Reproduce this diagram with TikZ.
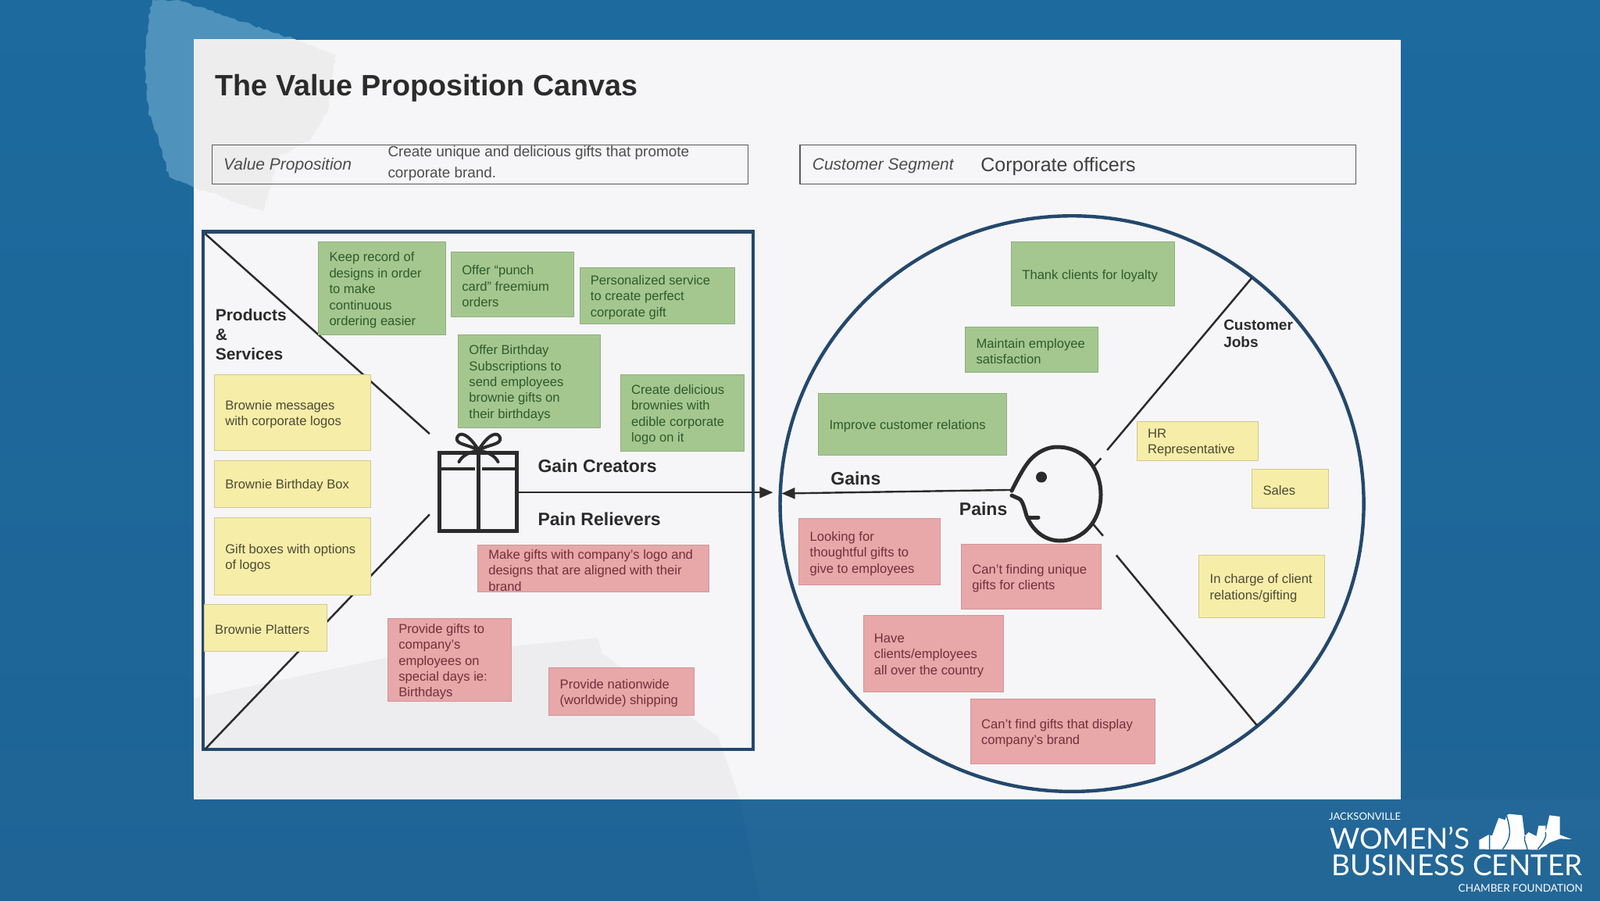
\documentclass[tikz,border=0pt]{standalone}
\usepackage{fontspec}
\setmainfont{Liberation Sans}
\newfontfamily\logofont{Lato}
\usetikzlibrary{arrows.meta,decorations.pathmorphing}
\definecolor{bgtop}{HTML}{1C6A9E}
\definecolor{bgbot}{HTML}{1F6495}
\definecolor{card}{HTML}{F6F6F8}
\definecolor{navy}{HTML}{24486C}
\definecolor{ink}{HTML}{2B2B2B}
\definecolor{gfill}{HTML}{A4C78F}
\definecolor{yfill}{HTML}{F6EDA8}
\definecolor{rfill}{HTML}{E8A7A9}
\definecolor{gtext}{HTML}{2E5A2C}
\definecolor{ytext}{HTML}{4C4A34}
\definecolor{rtext}{HTML}{70303A}
\definecolor{tapeblue}{HTML}{4F92BB}
\definecolor{tapegray}{HTML}{EDEDED}
\tikzset{
 sticky/.style={rectangle,inner sep=0pt,font=\fontsize{16.6}{20.4}\selectfont},
 greenbox/.style={sticky,fill=gfill,draw=gfill!88!black,line width=.7pt,text=gtext},
 yellowbox/.style={sticky,fill=yfill,draw=yfill!85!black,line width=.7pt,text=ytext},
 redbox/.style={sticky,fill=rfill,draw=rfill!90!black,line width=.7pt,text=rtext},
 frameline/.style={navy,line width=4.4pt},
 thinline/.style={ink,line width=2.5pt},
 headline/.style={ink,line width=5pt},
 lab/.style={font=\fontsize{20.5}{25}\bfseries\selectfont,text=ink,inner sep=0pt,align=left,anchor=west},
 arrowline/.style={ink,line width=2.4pt,-{Triangle[length=17pt,width=14pt]}},
 barbox/.style={draw=black!65,line width=1.2pt},
 logotext/.style={text=white,inner sep=0pt,anchor=base west},
 tornedge/.style={decorate,decoration={random steps,segment length=5pt,amplitude=1.6pt}},
}
% box rectangle with left-aligned text, set 2.4pt below the middle
\newcommand\bx[7]{%
 \pgfmathsetmacro\wdt{(#4-#2)*1.306122}%
 \pgfmathsetmacro\hgt{(#5-#3)*1.306122}%
 \pgfmathsetmacro\twd{\wdt-28}%
 \node[#6,minimum width=\wdt pt,minimum height=\hgt pt] (#1) at ({(#2+#4)/2},{(#3+#5)/2}) {\vbox{\kern4.8pt\hbox{\begin{minipage}{\twd pt}\raggedright #7\end{minipage}}}};}
\begin{document}
\begin{tikzpicture}[x=1.306122pt,y=-1.306122pt]
\useasboundingbox (0,0) rectangle (1568,882);
\shade[top color=bgtop,bottom color=bgbot] (0,0) rectangle (1568,882);
\fill[white,opacity=.02] (725,783) -- (1568,783) -- (1568,882) -- (745,882) -- cycle;
% torn tape under card
\begin{scope}[x=1pt/3,y=-1pt/3,shift={(170pt,0pt)}]
\fill[tapeblue,tornedge] (75,0) -- (175,0) -- (620,150) -- (780,210) -- (750,420) -- (680,540) -- (560,600) -- (500,810) -- (235,720) -- (140,680) -- (90,510) -- (60,430) -- (45,260) -- (60,60) -- cycle;
\end{scope}
% card
\fill[card] (190,39) rectangle (1373,783);
\begin{scope}
\clip (190,39) rectangle (1373,783);
\begin{scope}[x=1pt/3,y=-1pt/3,shift={(170pt,0pt)}]
\fill[tapegray,tornedge] (75,0) -- (175,0) -- (620,150) -- (780,210) -- (750,420) -- (680,540) -- (560,600) -- (500,810) -- (235,720) -- (140,680) -- (90,510) -- (60,430) -- (45,260) -- (60,60) -- cycle;
\end{scope}
\fill[black,opacity=.035] (190,684) -- (376,645) -- (586,625) -- (590,640) -- (704,722) -- (725,783) -- (190,783) -- cycle;
\end{scope}
% title
\node[font=\fontsize{37.7}{42}\bfseries\selectfont,text=ink,inner sep=0pt,anchor=base west] (title) at (211,94) {The Value Proposition Canvas};
% top bars
\draw[barbox] (208,142) rectangle (733,180);
\draw[barbox] (784,142) rectangle (1329,180);
\node[font=\fontsize{21}{25}\itshape\selectfont,text=black!70,inner sep=0pt,anchor=west] (vp) at (219,162.5) {Value Proposition};
\node[font=\fontsize{18.9}{26.5}\selectfont,text=black!70,inner sep=0pt,align=left,anchor=west] (vpt) at (380,160) {Create unique and delicious gifts that promote\\corporate brand.};
\node[font=\fontsize{21}{25}\itshape\selectfont,text=black!70,inner sep=0pt,anchor=west] (cs) at (796,162.5) {Customer Segment};
\node[font=\fontsize{25}{29}\selectfont,text=black!75,inner sep=0pt,anchor=west] (cst) at (961,163) {Corporate officers};
% frames
\draw[frameline] (199,227) rectangle (738,734);
\draw[frameline] (1050.5,493.5) ellipse [x radius=286,y radius=282];
% anchors for diagonals
\coordinate (a1) at (201,229); \coordinate (a2) at (421,425);
\coordinate (b1) at (201,734); \coordinate (b2) at (421,504);
\coordinate (c1) at (1227,272); \coordinate (c2) at (1085,441);
\coordinate (c3) at (1079,449); \coordinate (c4) at (1072,457);
\coordinate (d1) at (1094,544); \coordinate (d2) at (1232,711);
\coordinate (e1) at (1070,512); \coordinate (e2) at (1081,525);
\draw[thinline] (a1) -- (a2);
\draw[thinline] (b1) -- (b2);
\draw[thinline] (c1) -- (c2);
\draw[thinline] (c3) -- (c4);
\draw[thinline] (d1) -- (d2);
\draw[thinline] (e1) -- (e2);
% labels
\node[lab,font=\fontsize{21}{25}\bfseries\selectfont] (ps) at (211,328) {Products\\\&\\Services};
\node[lab,font=\fontsize{19}{22}\bfseries\selectfont] (cj) at (1199,327) {Customer\\Jobs};
\node[lab,font=\fontsize{23}{27}\bfseries\selectfont] (gc) at (527,456.5) {Gain Creators};
\node[lab,font=\fontsize{23}{27}\bfseries\selectfont] (pr) at (527,508.5) {Pain Relievers};
\node[lab,font=\fontsize{23}{27}\bfseries\selectfont] (gn) at (814,469) {Gains};
\node[lab,font=\fontsize{23}{27}\bfseries\selectfont] (pn) at (940,498.5) {Pains};
% green
\bx{g1}{312}{237}{437}{328}{greenbox}{Keep record of\\designs in order\\to make\\continuous\\ordering easier}
\bx{g2}{442}{247}{562}{310}{greenbox}{Offer “punch\\card” freemium\\orders}
\bx{g3}{568}{262}{720}{317}{greenbox}{Personalized service\\to create perfect\\corporate gift}
\bx{g4}{449}{328}{588}{419}{greenbox}{Offer Birthday\\Subscriptions to\\send employees\\brownie gifts on\\their birthdays}
\bx{g5}{608}{367}{729}{442}{greenbox}{Create delicious\\brownies with\\edible corporate\\logo on it}
\bx{g6}{991}{237}{1151}{300}{greenbox}{Thank clients for loyalty}
\bx{g7}{946}{320}{1076}{365}{greenbox}{Maintain employee\\satisfaction}
\bx{g8}{802}{385}{986}{446}{greenbox}{Improve customer relations}
% yellow
\bx{y1}{210}{367}{363}{441}{yellowbox}{Brownie messages\\with corporate logos}
\bx{y2}{210}{451}{363}{497}{yellowbox}{Brownie Birthday Box}
\bx{y3}{210}{507}{363}{583}{yellowbox}{Gift boxes with options\\of logos}
\bx{y4}{200}{592}{320}{638}{yellowbox}{Brownie Platters}
\bx{y5}{1114}{413}{1233}{451}{yellowbox}{HR\\Representative}
\bx{y6}{1227}{460}{1302}{498}{yellowbox}{Sales}
\bx{y7}{1175}{544}{1298}{605}{yellowbox}{\mbox{In charge of client}\\relations/gifting}
% red
\bx{r1}{468}{534}{695}{580}{redbox}{Make gifts with company’s logo and\\designs that are aligned with their\\brand}
\bx{r2}{380}{606}{501}{687}{redbox}{Provide gifts to\\company’s\\employees on\\special days ie:\\Birthdays}
\bx{r3}{538}{654}{680}{701}{redbox}{Provide nationwide\\(worldwide) shipping}
\bx{r4}{783}{508}{921}{573}{redbox}{Looking for\\thoughtful gifts to\\give to employees}
\bx{r5}{942}{533}{1079}{597}{redbox}{Can’t finding unique\\gifts for clients}
\bx{r6}{846}{603}{983}{678}{redbox}{Have\\clients/employees\\all over the country}
\bx{r7}{951}{685}{1132}{748}{redbox}{Can’t find gifts that display\\company’s brand}
% gift and head anchors
\node[inner sep=0pt,minimum width=104pt,minimum height=105pt] (gift) at (468.5,482.5) {};
\node[inner sep=0pt,minimum width=38pt,minimum height=4pt] (head) at (1005,480) {};
\coordinate (tipR) at (757.5,482.5);
\coordinate (tipL) at (766,483.5);
\draw[arrowline] (gift.east) -- (tipR);
\draw[arrowline] (head.west) -- (tipL);
% gift and head icons, logo (full-size pixels)
\begin{scope}[x=1pt,y=-1pt]
\draw[headline,miter limit=2] (562.5,579.5) rectangle (661,679.5);
\draw[headline,line width=4.4pt] (562.5,600) -- (608,600) (617,600) -- (661,600);
\draw[headline] (612.5,579) -- (612.5,679);
\draw[headline,line width=4pt,line cap=round] (612.5,576) .. controls (597,568) and (583,569) .. (585,560) .. controls (588,552) and (599,554) .. (612.5,576) .. controls (626,554) and (637,552) .. (640,560) .. controls (642,569) and (628,568) .. (612.5,576);
\draw[headline,line width=4pt,line cap=round] (610,577) .. controls (599,579) and (591,584) .. (587.5,591);
\draw[headline,line width=4pt,line cap=round] (615,577) .. controls (626,579) and (634,584) .. (637.5,591);
\fill[ink] (612.5,576) circle (3.2);
% head icon
\draw[headline,line cap=round,line join=round] (1295,628) .. controls (1303,612) and (1312,595) .. (1320,587) .. controls (1330,577) and (1342,572) .. (1353,572) .. controls (1388,572) and (1409,600) .. (1409,633) .. controls (1409,668) and (1385,692) .. (1357,692) .. controls (1338,692) and (1322,680) .. (1314,660) .. controls (1311,650) and (1309,640) .. (1304,638) -- (1295,634);
\draw[headline,line cap=round] (1316,662) -- (1329,662);
\fill[ink] (1333,610.5) circle (7);
% logo
\node[logotext,font=\logofont\fontsize{13}{15}\selectfont] (l1) at (1701,1049) {JACKSONVILLE};
\node[logotext,font=\logofont\fontsize{37}{37}\selectfont] (l2) at (1702,1086) {WOMEN’S};
\node[logotext,font=\logofont\fontsize{37}{37}\selectfont,anchor=base east] (l4) at (2026,1120) {BUSINESS CENTER};
\node[logotext,font=\logofont\fontsize{13.5}{17}\selectfont,anchor=base east] (l5) at (2026,1141) {CHAMBER FOUNDATION};
\end{scope}
\begin{scope}[x=1pt/3,y=-1pt/3,shift={(1650pt,-1010pt)}]
\fill[white] (730,230) -- (730,195) -- (765,175) -- (780,178) -- (790,150) -- (805,110) -- (830,118) -- (835,100) -- (845,95) -- (895,100) -- (905,180) -- (920,165) -- (950,180) -- (958,140) -- (985,140) -- (985,165) -- (1000,100) -- (1040,105) -- (1040,175) -- (1085,192) -- (1040,190) -- (1000,205) -- (960,232) -- cycle;
\draw[bgbot,line width=1.4pt] (770,175) -- (770,232) (820,230) .. controls (850,190) and (855,170) .. (835,100) (905,180) .. controls (900,200) and (915,215) .. (915,235) (955,230) .. controls (980,200) and (990,180) .. (985,165);
\end{scope}
\end{tikzpicture}
\end{document}
